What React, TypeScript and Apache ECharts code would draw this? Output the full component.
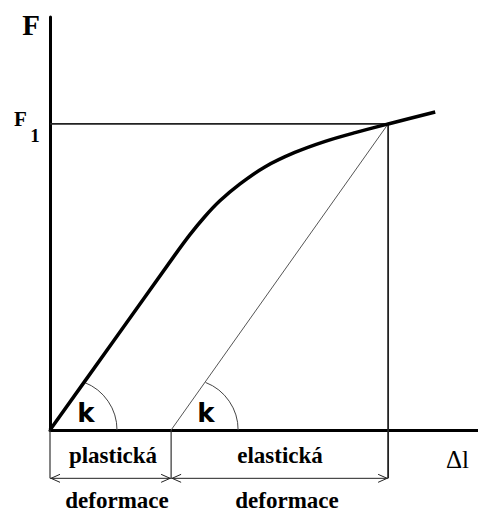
import React, { useEffect, useRef } from "react";
import * as echarts from "echarts";

// Elongation (Δl) and force (F) of the loading curve, in arbitrary units
const curveDl = [0, 14.6, 29.2, 32.7, 36.2, 39.7, 44.4, 50.2, 57.2, 64.3, 71.3, 79.0, 90.0];
const curveF = [0, 21.2, 42.4, 47.3, 51.7, 55.5, 59.6, 63.7, 67.2, 69.9, 72.0, 74.1, 77.0];

const F1 = 74.1; // force level F1
const plasticEnd = 28.3; // end of plastic deformation on Δl axis
const elasticEnd = 79.0; // end of elastic deformation (Δl at F1)
const arrowLevel = -11.7; // level of the dimension arrows below the axis
const angleVertices = [0, plasticEnd];

const axisMax = { x: 100, y: 100 };

const labelPlastic = "plastická";
const labelElastic = "elastická";
const labelDeform = "deformace";

export default function App() {
  const ref = useRef<HTMLDivElement>(null);

  useEffect(() => {
    if (!ref.current) return;
    const chart = echarts.init(ref.current, null, { renderer: "svg" });

    const curveData = curveDl.map((x, i) => [x, curveF[i]]);
    const serif = "'Liberation Serif', 'Times New Roman', serif";
    const sans = "'DejaVu Sans', Verdana, sans-serif";

    chart.setOption({
      animation: false,
      backgroundColor: "#ffffff",
      grid: { left: 50, top: 17, right: 0, bottom: 81 },
      xAxis: {
        type: "value",
        min: 0,
        max: axisMax.x,
        axisLine: { show: true, onZero: false, lineStyle: { color: "#000", width: 3 } },
        axisTick: { show: false },
        axisLabel: { show: false },
        splitLine: { show: false },
      },
      yAxis: {
        type: "value",
        min: 0,
        max: axisMax.y,
        axisLine: { show: true, onZero: false, lineStyle: { color: "#000", width: 3 } },
        axisTick: { show: false },
        axisLabel: { show: false },
        splitLine: { show: false },
      },
      series: [
        {
          type: "line",
          data: [[0, F1], [elasticEnd, F1]],
          symbol: "none",
          lineStyle: { color: "#222", width: 1.8 },
          z: 2,
        },
        {
          type: "line",
          data: [[elasticEnd, F1], [elasticEnd, arrowLevel]],
          symbol: "none",
          clip: false,
          lineStyle: { color: "#222", width: 1.8 },
          z: 2,
        },
        {
          type: "line",
          data: [[plasticEnd, 0], [elasticEnd, F1]],
          symbol: "none",
          lineStyle: { color: "#555", width: 1 },
          z: 2,
        },
        {
          type: "line",
          data: [[0, 0], [0, arrowLevel]],
          symbol: "none",
          clip: false,
          lineStyle: { color: "#333", width: 1.2 },
          z: 2,
        },
        {
          type: "line",
          data: [[plasticEnd, 0], [plasticEnd, arrowLevel]],
          symbol: "none",
          clip: false,
          lineStyle: { color: "#333", width: 1.2 },
          z: 2,
        },
        {
          type: "custom",
          clip: false,
          data: [
            [0, plasticEnd, arrowLevel],
            [plasticEnd, elasticEnd, arrowLevel],
          ],
          encode: { x: [0, 1], y: 2 },
          renderItem: (params: any, api: any) => {
            const a = api.coord([api.value(0), api.value(2)]);
            const b = api.coord([api.value(1), api.value(2)]);
            const style = { stroke: "#222", lineWidth: 1, fill: "none" };
            return {
              type: "group",
              children: [
                { type: "line", shape: { x1: a[0], y1: a[1], x2: b[0], y2: b[1] }, style },
                {
                  type: "polyline",
                  shape: { points: [[a[0] + 10, a[1] - 4], [a[0] + 1, a[1]], [a[0] + 10, a[1] + 4]] },
                  style,
                },
                {
                  type: "polyline",
                  shape: { points: [[b[0] - 10, b[1] - 4], [b[0] - 1, b[1]], [b[0] - 10, b[1] + 4]] },
                  style,
                },
              ],
            };
          },
          z: 3,
        },
        {
          type: "custom",
          clip: false,
          data: angleVertices.map((x) => [x, 0]),
          renderItem: (params: any, api: any) => {
            const c = api.coord([api.value(0), api.value(1)]);
            return {
              type: "arc",
              shape: { cx: c[0] + 16, cy: c[1], r: 51, startAngle: -1.2, endAngle: 0, clockwise: true },
              style: { stroke: "#444", lineWidth: 1, fill: "none" },
            };
          },
          z: 3,
        },
        {
          type: "line",
          data: curveData,
          symbol: "none",
          smooth: 0.3,
          lineStyle: { color: "#000", width: 3.5 },
          z: 5,
        },
      ],
      graphic: [
        { type: "text", x: 31, y: 25, style: { text: "F", font: `bold 29px ${serif}`, fill: "#000", align: "center", verticalAlign: "middle" } },
        { type: "text", x: 20.5, y: 119, style: { text: "F", font: `bold 21px ${serif}`, fill: "#000", align: "center", verticalAlign: "middle" } },
        { type: "text", x: 35, y: 135.5, style: { text: "1", font: `bold 19px ${serif}`, fill: "#000", align: "center", verticalAlign: "middle" } },
        { type: "text", x: 446, y: 459, style: { text: "Δl", font: `25px ${serif}`, fill: "#000", align: "left", verticalAlign: "middle" } },
        { type: "text", x: 86, y: 413, style: { text: "k", font: `bold 26px ${sans}`, fill: "#000", align: "center", verticalAlign: "middle" } },
        { type: "text", x: 206, y: 413, style: { text: "k", font: `bold 26px ${sans}`, fill: "#000", align: "center", verticalAlign: "middle" } },
        { type: "text", x: 113, y: 455, style: { text: labelPlastic, font: `bold 23px ${serif}`, fill: "#000", align: "center", verticalAlign: "middle" } },
        { type: "text", x: 280, y: 455, style: { text: labelElastic, font: `bold 23px ${serif}`, fill: "#000", align: "center", verticalAlign: "middle" } },
        { type: "text", x: 117, y: 500, style: { text: labelDeform, font: `bold 23px ${serif}`, fill: "#000", align: "center", verticalAlign: "middle" } },
        { type: "text", x: 287, y: 500, style: { text: labelDeform, font: `bold 23px ${serif}`, fill: "#000", align: "center", verticalAlign: "middle" } },
      ],
    });

    return () => chart.dispose();
  }, []);

  return (
    <div
      ref={ref}
      style={{ position: "absolute", left: 0, top: 0, width: 478, height: 511, background: "#fff" }}
    />
  );
}
